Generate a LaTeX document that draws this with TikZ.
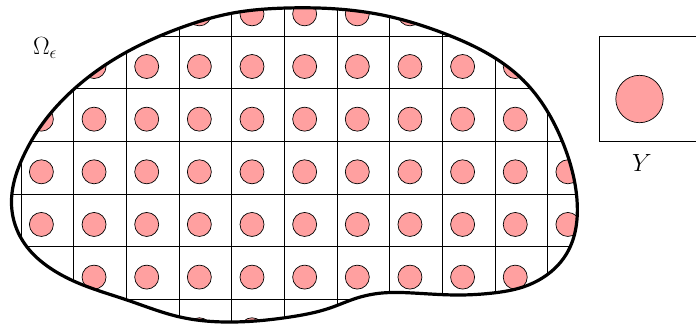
\documentclass[tikz,border=0pt]{standalone}
\usetikzlibrary{calc,hobby}
\definecolor{pinkfill}{RGB}{255,160,160}
\tikzset{
  gridline/.style={black,line width=0.7pt},
  inclusion/.style={draw=black,line width=0.7pt,fill=pinkfill},
  boundary/.style={black,line width=3.2pt,line join=round},
  lbl/.style={inner sep=0pt,font=\fontsize{26}{30}\selectfont}
}
\def\blob{(12,193) .. (23,157) .. (43,123) .. (73,90) .. (113,60) .. (180,28) .. (233,13) .. (287,8) .. (387,16) .. (443,33) .. (523,80) .. (563,143) .. (577,200) .. (567,253) .. (523,287) .. (493,293) .. (457,295) .. (413,293) .. (382,293) .. (357,298) .. (330,308) .. (290,317) .. (233,322) .. (180,317) .. (127,300) .. (83,285) .. (50,268) .. (27,247) .. (13,217)}
\begin{document}
\begin{tikzpicture}[x=1pt,y=-1pt]
\useasboundingbox (0,0) rectangle (696,325);
\begin{scope}
  \clip[use Hobby shortcut,closed=true] \blob;
  \foreach \k in {-1,...,11} {
    \draw[gridline] ({21.1+52.65*\k},-30) -- ({21.1+52.65*\k},360);
  }
  \foreach \k in {0,...,7} {
    \draw[gridline] (-30,{-16.65+52.65*\k}) -- (620,{-16.65+52.65*\k});
  }
  \foreach \i in {-1,...,10} {
    \foreach \j in {0,...,6} {
      \draw[inclusion] ({21.1+52.65*\i+20.3},{-16.65+52.65*\j+30.5}) circle[radius=12];
    }
  }
\end{scope}
\draw[boundary,use Hobby shortcut,closed=true] \blob;
\node[lbl] (omega) at (45,48) {$\Omega_\epsilon$};
\begin{scope}
  \clip (0,0) rectangle (696,325);
  \draw[gridline] (599,36) rectangle (704,141);
  \draw[inclusion] (639.5,99) circle[radius=23.7];
\end{scope}
\node[lbl] (cell) at (642,163) {$Y$};
\end{tikzpicture}
\end{document}
